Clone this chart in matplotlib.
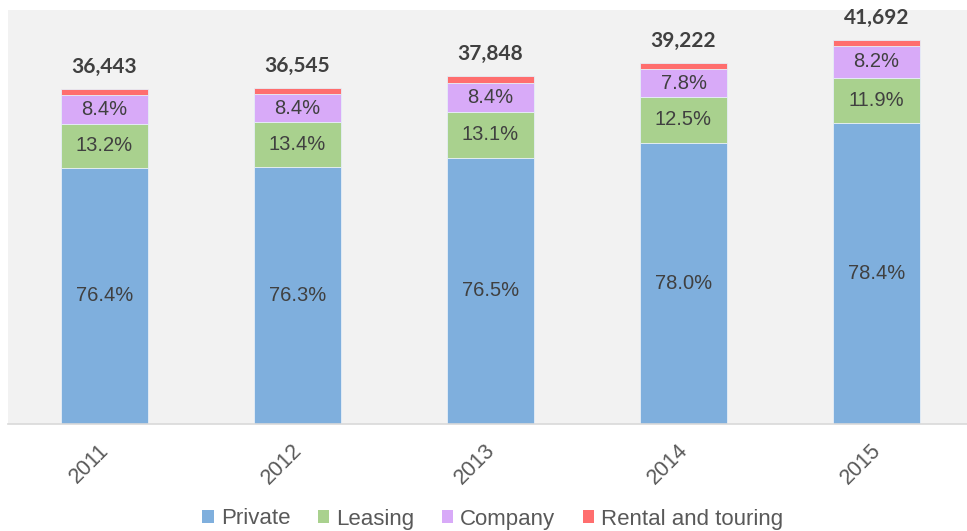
#!/usr/bin/env python3
import numpy as np
import matplotlib
matplotlib.use("Agg")
import matplotlib.pyplot as plt
from matplotlib.patches import Patch
from matplotlib.transforms import ScaledTranslation

# ---------------- data ----------------
years = ["2011", "2012", "2013", "2014", "2015"]
totals = [36443, 36545, 37848, 39222, 41692]
private = [76.4, 76.3, 76.5, 78.0, 78.4]
leasing = [13.2, 13.4, 13.1, 12.5, 11.9]
company = [8.4, 8.4, 8.4, 7.8, 8.2]
rental = [2.0, 1.9, 2.0, 1.7, 1.5]

series = [("Private", private, "#7FAFDD"),
          ("Leasing", leasing, "#A9D18E"),
          ("Company", company, "#D8AAF8"),
          ("Rental and touring", rental, "#FF6E6E")]

plt.rcParams["font.family"] = ["Liberation Sans", "DejaVu Sans"]

W, H = 967, 531
fig = plt.figure(figsize=(W / 100, H / 100), dpi=100)
ax = fig.add_axes([8 / W, (H - 424) / H, (W - 8) / W, (424 - 10) / H])
ax.set_facecolor("#F2F2F2")

x = np.arange(len(years))
tot = np.array(totals, dtype=float)
bottom = np.zeros(len(years))
for name, pct, col in series:
    vals = tot * np.array(pct) / 100.0
    ax.bar(x, vals, width=0.45, bottom=bottom, color=col,
           edgecolor="#E6EEF7", linewidth=0.6, label=name)
    if name != "Rental and touring":
        for i, p in enumerate(pct):
            ax.text(x[i], bottom[i] + vals[i] / 2, f"{p:.1f}%", ha="center",
                    va="center", fontsize=14.5, color="#404040")
    bottom += vals

for i, t in enumerate(totals):
    ax.annotate(f"{t:,}", (x[i], bottom[i]), xytext=(0, 16),
                textcoords="offset points", ha="center", va="center",
                fontsize=15, fontweight="bold", color="#404040",
                family=["Lato", "DejaVu Sans"])

ax.set_ylim(0, 45000)
ax.set_xlim(-0.5, (W - 104.5) / 193)
ax.set_yticks([])
ax.set_xticks(x)
ax.set_xticklabels(years, rotation=45, ha="right", va="center",
                   rotation_mode="anchor", fontsize=15.5, color="#595959")
ax.tick_params(axis="x", length=0, pad=17)
off = ScaledTranslation(1 / 100, 0, fig.dpi_scale_trans)
for lab in ax.get_xticklabels():
    lab.set_transform(lab.get_transform() + off)

for s in ["top", "left", "right"]:
    ax.spines[s].set_visible(False)
ax.spines["bottom"].set_color("#D9D9D9")
ax.spines["bottom"].set_linewidth(1.2)

handles = [Patch(facecolor=c, edgecolor="none", label=n) for n, _, c in series]
leg = fig.legend(handles=handles, loc="center", ncol=4, frameon=False,
                 bbox_to_anchor=(493 / W, 1 - 519 / H), fontsize=16,
                 handlelength=0.5, handleheight=0.5, handletextpad=0.32,
                 columnspacing=1.25, borderpad=0)
for t in leg.get_texts():
    t.set_color("#595959")

fig.savefig("out.png", dpi=100)
